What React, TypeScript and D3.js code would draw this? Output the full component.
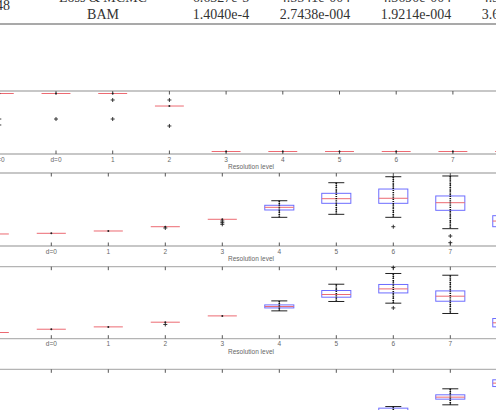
import * as d3 from "d3";

// resolution levels along the x axis of every panel
const categories = ["c=0", "d=0", "1", "2", "3", "4", "5", "6", "7", "8"];

// table rows above the figure
const tableRows = [
  ["Loss & MCMC", "6.6327e-5", "4.5541e-004", "4.3690e-004", "4.3690e-004"],
  ["BAM", "1.4040e-4", "2.7438e-004", "1.9214e-004", "3.6071e-004"],
];
const tableCols = [103, 221, 315, 416, 517];

// panel 1: every level collapses to a single value
const p1Lo = [1, 1, 1, 0.784, 0, 0, 0, 0, 0, 0];
const p1Q1 = [1, 1, 1, 0.784, 0, 0, 0, 0, 0, 0];
const p1Med = [1, 1, 1, 0.784, 0, 0, 0, 0, 0, 0];
const p1Q3 = [1, 1, 1, 0.784, 0, 0, 0, 0, 0, 0];
const p1Hi = [1, 1, 1, 0.784, 0, 0, 0, 0, 0, 0];
const p1Out = [[0.56, 0.457], [0.56], [0.888, 0.56], [0.888, 0.44], [], [], [], [], [], []];

// panel 2
const p2Lo = [0.14, 0.15, 0.184, 0.247, 0.356, 0.385, 0.429, 0.385, 0.218, 0.15];
const p2Q1 = [0.14, 0.15, 0.184, 0.247, 0.356, 0.493, 0.591, 0.591, 0.488, 0.247];
const p2Med = [0.14, 0.15, 0.184, 0.247, 0.356, 0.532, 0.659, 0.665, 0.6, 0.33];
const p2Q3 = [0.14, 0.15, 0.184, 0.247, 0.356, 0.562, 0.738, 0.801, 0.699, 0.409];
const p2Hi = [0.14, 0.15, 0.184, 0.247, 0.356, 0.629, 0.894, 0.982, 0.993, 0.5];
const p2Out = [[], [], [], [0.228], [0.331, 0.306, 0.282], [], [], [0.247], [0.11, 0.012], []];

// panel 3
const p3Lo = [0.055, 0.104, 0.139, 0.209, 0.303, 0.378, 0.518, 0.493, 0.339, 0.05];
const p3Q1 = [0.055, 0.104, 0.139, 0.209, 0.303, 0.422, 0.582, 0.646, 0.522, 0.139];
const p3Med = [0.055, 0.104, 0.139, 0.209, 0.303, 0.443, 0.622, 0.706, 0.597, 0.2];
const p3Q3 = [0.055, 0.104, 0.139, 0.209, 0.303, 0.467, 0.682, 0.772, 0.676, 0.264];
const p3Hi = [0.055, 0.104, 0.139, 0.209, 0.303, 0.527, 0.776, 0.936, 0.91, 0.35];
const p3Out = [[], [], [], [0.175], [], [], [], [1.025, 0.422], [], []];

// panel 4
const p4Lo = [0.02, 0.04, 0.06, 0.09, 0.14, 0.16, 0.22, 0.25, 0.505, 0.7];
const p4Q1 = [0.02, 0.04, 0.06, 0.09, 0.14, 0.19, 0.27, 0.33, 0.59, 0.779];
const p4Med = [0.02, 0.04, 0.06, 0.09, 0.14, 0.2, 0.3, 0.4, 0.62, 0.83];
const p4Q3 = [0.02, 0.04, 0.06, 0.09, 0.14, 0.22, 0.34, 0.455, 0.655, 0.88];
const p4Hi = [0.02, 0.04, 0.06, 0.09, 0.14, 0.26, 0.4, 0.479, 0.745, 0.95];
const p4Out = [[], [], [], [], [], [], [], [], [], []];

type Panel = {
  top: number;
  bottom: number;
  x0: number;
  step: number;
  lo: number[];
  q1: number[];
  med: number[];
  q3: number[];
  hi: number[];
  out: number[][];
  labels: boolean;
};

const panels: Panel[] = [
  { top: 91, bottom: 154, x0: 56, step: 56.7, lo: p1Lo, q1: p1Q1, med: p1Med, q3: p1Q3, hi: p1Hi, out: p1Out, labels: true },
  { top: 173, bottom: 246, x0: 51.3, step: 57, lo: p2Lo, q1: p2Q1, med: p2Med, q3: p2Q3, hi: p2Hi, out: p2Out, labels: true },
  { top: 266.7, bottom: 338.7, x0: 51.3, step: 57, lo: p3Lo, q1: p3Q1, med: p3Med, q3: p3Q3, hi: p3Hi, out: p3Out, labels: true },
  { top: 369.3, bottom: 441, x0: 51.3, step: 57, lo: p4Lo, q1: p4Q1, med: p4Med, q3: p4Q3, hi: p4Hi, out: p4Out, labels: false },
];

const BLUE = "#6d6dff";
const RED = "#ec6a72";
const AXIS = "#b4b4b4";
const TICK = "#555";

function BoxPanel({ p }: { p: Panel }) {
  const x = d3
    .scalePoint<string>()
    .domain(categories)
    .range([p.x0 - p.step, p.x0 + 8 * p.step]);
  const y = d3.scaleLinear().domain([0, 1]).range([p.bottom - 2.5, p.top + 2.5]);
  const boxW = p.step * 0.51;
  const capW = 16;

  return (
    <g>
      <line x1={-10} x2={510} y1={p.top} y2={p.top} stroke={AXIS} strokeWidth={1.3} />
      <line x1={-10} x2={510} y1={p.bottom} y2={p.bottom} stroke={AXIS} strokeWidth={1.3} />
      {categories.map((c) => (
        <g key={"t" + c}>
          <line x1={x(c)} x2={x(c)} y1={p.top} y2={p.top + 3.5} stroke={TICK} />
          <line x1={x(c)} x2={x(c)} y1={p.bottom} y2={p.bottom - 3.5} stroke={TICK} />
          {p.labels && (
            <text
              x={x(c)}
              y={p.bottom + 7.5}
              textAnchor="middle"
              fontSize={6.5}
              fill="#666"
              fontFamily="Liberation Sans, Arial, sans-serif"
            >
              {c}
            </text>
          )}
        </g>
      ))}
      {p.labels && (
        <text
          x={251}
          y={p.bottom + 15}
          textAnchor="middle"
          fontSize={6.5}
          fill="#666"
          fontFamily="Liberation Sans, Arial, sans-serif"
        >
          Resolution level
        </text>
      )}
      {categories.map((c, i) => {
        const cx = x(c) as number;
        const flat = p.hi[i] === p.lo[i];
        const spread = p.hi[i] - p.lo[i] > 0.1;
        return (
          <g key={"b" + c}>
            {!flat && (
              <g stroke="#222" strokeWidth={1}>
                <line x1={cx - capW / 2} x2={cx + capW / 2} y1={y(p.hi[i])} y2={y(p.hi[i])} />
                <line x1={cx - capW / 2} x2={cx + capW / 2} y1={y(p.lo[i])} y2={y(p.lo[i])} />
                <line x1={cx} x2={cx} y1={y(p.hi[i])} y2={y(p.q3[i])} strokeDasharray="2 1.5" />
                <line x1={cx} x2={cx} y1={y(p.q1[i])} y2={y(p.lo[i])} strokeDasharray="2 1.5" />
              </g>
            )}
            {!flat && (
              <rect
                x={cx - boxW / 2}
                y={y(p.q3[i])}
                width={boxW}
                height={Math.max(0.5, y(p.q1[i]) - y(p.q3[i]))}
                fill="none"
                stroke={BLUE}
                strokeWidth={1}
              />
            )}
            <line
              x1={cx - boxW / 2}
              x2={cx + boxW / 2}
              y1={y(p.med[i])}
              y2={y(p.med[i])}
              stroke={RED}
              strokeWidth={1}
            />
            {spread && (
              <line
                x1={cx}
                x2={cx}
                y1={y(p.hi[i])}
                y2={y(p.lo[i])}
                stroke="#111"
                strokeWidth={1.6}
                strokeDasharray="1.2 1"
              />
            )}
            {flat && <circle cx={cx} cy={y(p.med[i])} r={1} fill="#222" />}
            {p.out[i].map((v, k) => (
              <path
                key={k}
                d={`M${cx - 2},${y(v)}h4M${cx},${y(v) - 2}v4`}
                stroke="#222"
                strokeWidth={0.9}
              />
            ))}
          </g>
        );
      })}
    </g>
  );
}

export default function App() {
  return (
    <svg
      width={496}
      height={410}
      style={{ position: "absolute", left: 0, top: 0, background: "#fff" }}
    >
      <rect width={496} height={410} fill="#fff" />
      <g fontFamily="Liberation Serif, Times New Roman, serif" fontSize={14} fill="#333">
        <text x={10} y={10} textAnchor="end">2048</text>
        {tableRows.map((row, r) =>
          row.map((cell, k) => (
            <text key={r + "-" + k} x={tableCols[k]} y={2 + r * 17} textAnchor="middle">
              {cell}
            </text>
          ))
        )}
      </g>
      <line x1={0} x2={496} y1={24} y2={24} stroke="#555" strokeWidth={1.2} />
      {panels.map((p, i) => (
        <BoxPanel key={i} p={p} />
      ))}
    </svg>
  );
}
